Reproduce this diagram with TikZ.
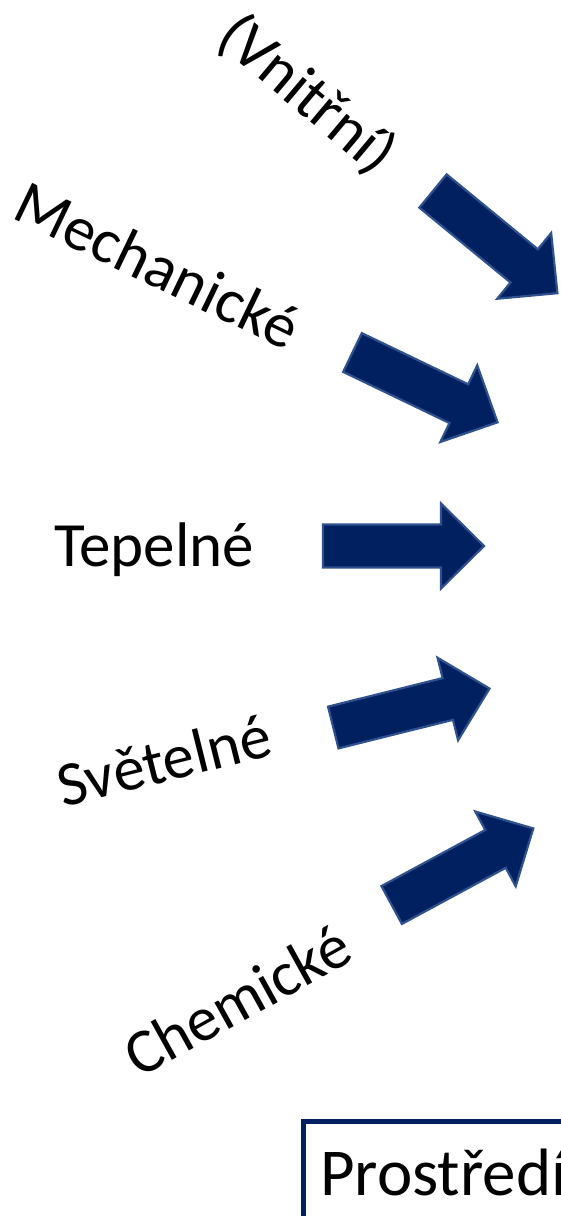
\documentclass[tikz,border=0pt]{standalone}
\usepackage{fontspec}
\setmainfont{Carlito}
\definecolor{navy}{RGB}{0,32,96}
\definecolor{edgeblue}{RGB}{47,82,143}
\begin{document}
\begin{tikzpicture}[x=1pt,y=-1pt,
  arrowfill/.style={fill=navy,draw=edgeblue,line width=2.2pt,line join=miter},
  lbl/.style={inner sep=0pt,font=\fontsize{63}{75}\selectfont},
  blockarrow/.pic={\path[arrowfill] (0,-21.5) -- (118,-21.5) -- (118,-42.5) -- (161,0) -- (118,42.5) -- (118,21.5) -- (0,21.5) -- cycle;}]
\useasboundingbox (0,0) rectangle (561,1216);
\clip (0,0) rectangle (561,1216);
% labels
\node[lbl,rotate=-40] (vnitrni) at (307,95) {(Vnitřní)};
\node[lbl,rotate=-25.7] (mech) at (158,265) {Mechanické};
\node[lbl,anchor=base] (tep) at (154,566) {Tepelné};
\node[lbl,rotate=14] (svet) at (164,760) {Světelné};
\node[lbl,rotate=29] (chem) at (237,1000) {Chemické};
% block arrows
\pic[rotate=-39.4] at (433,191) {blockarrow};
\pic[rotate=-25.7] at (352.5,352.5) {blockarrow};
\pic at (323,546) {blockarrow};
\pic[rotate=14] at (333.3,727.5) {blockarrow};
\pic[rotate=28.4] at (391.7,905) {blockarrow};
% environment box
\draw[navy,line width=5pt] (303,1300) -- (303,1121.3) -- (620,1121.3);
\node[inner sep=0pt,anchor=base west,font=\fontsize{67}{80}\selectfont] (prostredi) at (320,1195) {Prostředí};
\end{tikzpicture}
\end{document}
